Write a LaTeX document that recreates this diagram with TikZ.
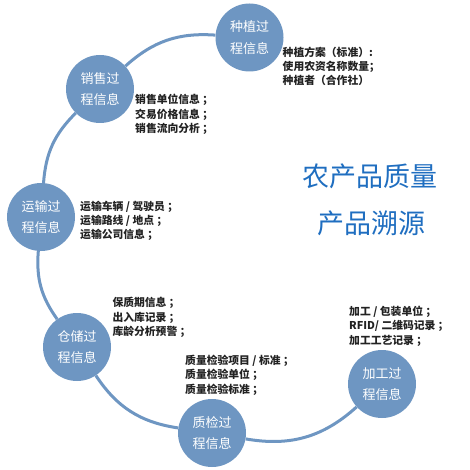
\documentclass[tikz,border=0pt]{standalone}
\usepackage{fontspec}
\setmainfont{Noto Sans CJK SC}
\definecolor{ballblue}{HTML}{6E96C2}
\definecolor{titleblue}{HTML}{1F6EC0}
\definecolor{labeltext}{HTML}{222222}
\begin{document}
\begin{tikzpicture}[x=1pt,y=-1pt,
  stage/.style={circle,fill=ballblue,minimum size=68pt,inner sep=0pt,
    text=white,align=center,font=\fontsize{13}{21.7}\selectfont},
  info/.style={anchor=west,align=left,inner sep=0pt,text=labeltext,
    font=\fontsize{10.8}{14.2}\selectfont\bfseries},
  link/.style={draw=ballblue,line width=3pt},
  title/.style={text=titleblue,font=\fontsize{27}{32}\selectfont,inner sep=0pt}]
\useasboundingbox (0,0) rectangle (469,470);
\node[stage] (zz) at (249.5,37.5) {种植过\\程信息};
\node[stage] (xs) at (100,89) {销售过\\程信息};
\node[stage] (ys) at (41,217) {运输过\\程信息};
\node[stage] (cc) at (77,347) {仓储过\\程信息};
\node[stage] (zj) at (212,433) {质检过\\程信息};
\node[stage] (jg) at (382,384) {加工过\\程信息};
\draw[link] (zz) to[bend right=23] (xs);
\draw[link] (xs) to[bend right=20.5] (ys);
\draw[link] (ys) to[bend right=20] (cc);
\draw[link] (cc) to[bend right=24] (zj);
\draw[link] (zj) to[bend right=26] (jg);
\node[info] (tzz) at (282.5,66.5) {种植方案（标准）:\\使用农资名称数量；\\种植者（合作社）};
\node[info] (txs) at (135,114.3) {销售单位信息 ；\\交易价格信息 ；\\销售流向分析 ；};
\node[info] (tys) at (80,221) {运输车辆 / 驾驶员 ；\\运输路线 / 地点 ；\\运输公司信息 ；};
\node[info] (tcc) at (112.3,317.5) {保质期信息 ；\\出入库记录 ；\\库龄分析预警 ；};
\node[info] (tzj) at (185,375.3) {质量检验项目 / 标准 ；\\质量检验单位 ；\\质量检验标准 ；};
\node[info] (tjg) at (349,326.2) {加工 / 包装单位 ；\\RFID/ 二维码记录 ；\\加工工艺记录 ；};
\node[title] (t1) at (370,176.7) {农产品质量};
\node[title] (t2) at (371.7,223.3) {产品溯源};
\end{tikzpicture}
\end{document}
